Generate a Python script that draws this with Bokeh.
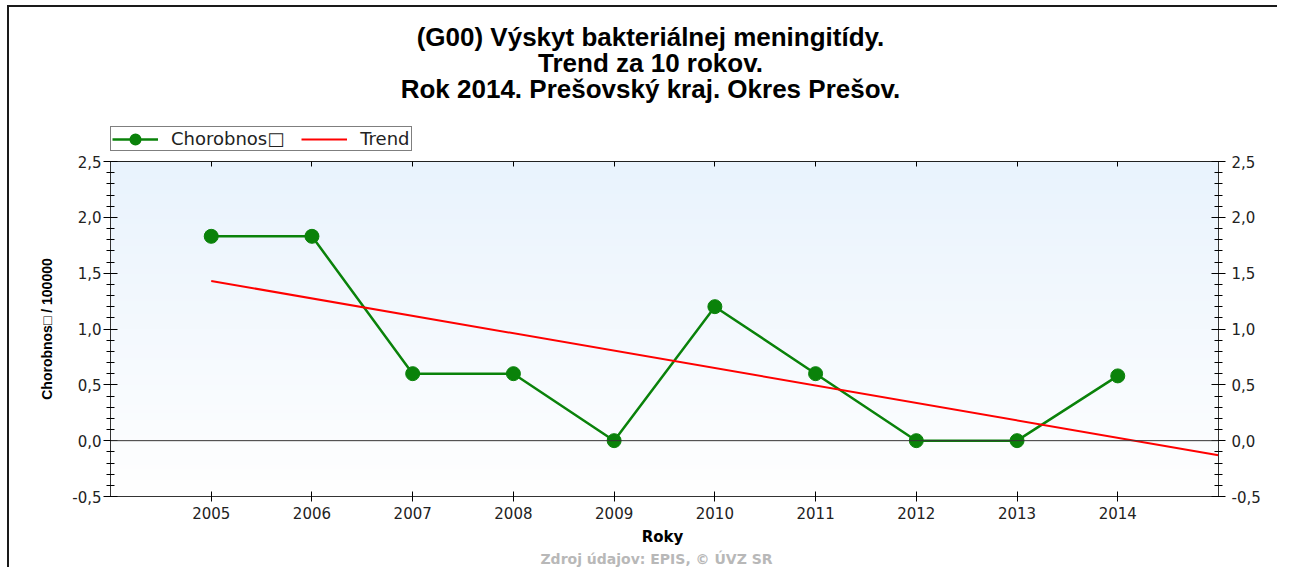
import numpy as np
from bokeh.plotting import figure
from bokeh.layouts import column
from bokeh.models import (Range1d, LinearAxis, FixedTicker, Span, Label, Legend, LegendItem)
from bokeh.embed import file_html
from bokeh.resources import INLINE

# ---- data ----
years = [2005, 2006, 2007, 2008, 2009, 2010, 2011, 2012, 2013, 2014]
values = [1.83, 1.83, 0.60, 0.60, 0.00, 1.20, 0.60, 0.00, 0.00, 0.58]
trend_x = [2005, 2015]
trend_y = [1.43, -0.13]
x_tick_labels = ["2005", "2006", "2007", "2008", "2009", "2010", "2011", "2012", "2013", "2014"]
y_ticks = [-0.5, 0.0, 0.5, 1.0, 1.5, 2.0, 2.5]
y_tick_labels = ["-0,5", "0,0", "0,5", "1,0", "1,5", "2,0", "2,5"]
title_lines = ["(G00) Výskyt bakteriálnej meningitídy.",
               "Trend za 10 rokov.",
               "Rok 2014. Prešovský kraj. Okres Prešov."]
series_name = "Chorobnos\u25a1"
trend_name = "Trend"
y_label = "Chorobnos\u25a1 / 100000"
x_label = "Roky"
source_text = "Zdroj údajov: EPIS, © ÚVZ SR"

X0, X1 = 2004, 2015
Y0, Y1 = -0.5, 2.5

W = 1268
HEAD_H, MAIN_H, FOOT_H = 144, 375, 41
FRAME_LEFT = 101   # frames of the stacked figures are aligned to the chart frame
FRAME_RIGHT = 59
green = "#0a820a"
red = "#ff0000"

def bare(h):
    f = figure(width=W, height=h, output_backend="svg", toolbar_location=None,
               x_range=Range1d(0, 1), y_range=Range1d(0, 1),
               x_axis_location=None, y_axis_location=None, title=None,
               min_border=0, min_border_left=FRAME_LEFT, min_border_right=FRAME_RIGHT,
               min_border_top=0, min_border_bottom=0)
    f.xgrid.visible = False
    f.ygrid.visible = False
    f.outline_line_color = None
    f.background_fill_color = "white"
    f.border_fill_color = "white"
    return f

# ---------- header: titles + legend ----------
head = bare(HEAD_H)
for txt, yy in zip(title_lines, [115, 89, 63]):
    head.add_layout(Label(x=540, y=yy, x_units="screen", y_units="screen", text=txt,
                          text_align="center", text_baseline="middle",
                          text_font="Liberation Sans", text_font_style="bold",
                          text_font_size="26px", text_color="black"))
# legend samples (styles only; the points lie outside the header's range)
lg_line = head.line([-10, -9], [-10, -10], line_color=green, line_width=2.5)
lg_dot = head.scatter([-10], [-10], size=8, fill_color=green, line_color=green, line_width=4)
lg_trend = head.line([-10, -9], [-10, -10], line_color=red, line_width=2)
legend = Legend(items=[LegendItem(label=series_name, renderers=[lg_line, lg_dot]),
                       LegendItem(label=trend_name, renderers=[lg_trend])],
                orientation="horizontal", location=(0, 0),
                border_line_color="black", border_line_width=1,
                background_fill_color="white", background_fill_alpha=1,
                label_text_font="DejaVu Sans", label_text_font_size="18px",
                label_text_color="#222222", label_text_baseline="middle",
                glyph_width=46, glyph_height=20, label_height=20,
                label_standoff=13, spacing=17, padding=1, margin=0)
head.add_layout(legend)

# ---------- main chart ----------
p = figure(width=W, height=MAIN_H, output_backend="svg", toolbar_location=None,
           x_range=Range1d(X0, X1), y_range=Range1d(Y0, Y1),
           x_axis_location=None, y_axis_location=None, title=None,
           min_border_left=FRAME_LEFT, min_border_right=FRAME_RIGHT,
           min_border_top=10, min_border_bottom=30)
p.xgrid.visible = False
p.ygrid.visible = False
p.outline_line_color = "#222222"
p.background_fill_color = "white"
p.border_fill_color = "white"

# gradient background of plot area
n = 200
t = np.linspace(0, 1, n)[:, None]  # 0 bottom -> 1 top
top = np.array([233, 243, 253]); bot = np.array([255, 255, 255])
cols = (bot + (top - bot) * t).astype(np.uint32)
img = np.empty((n, 1), dtype=np.uint32)
view = img.view(dtype=np.uint8).reshape((n, 1, 4))
view[:, :, 0] = cols[:, 0][:, None]
view[:, :, 1] = cols[:, 1][:, None]
view[:, :, 2] = cols[:, 2][:, None]
view[:, :, 3] = 255
p.image_rgba(image=[img], x=X0, y=Y0, dw=X1 - X0, dh=Y1 - Y0, level="image")

p.add_layout(Span(location=0, dimension="width", line_color="#333333", line_width=1))

minor = [round(v, 1) for v in np.arange(-0.5, 2.51, 0.1) if round(v, 1) not in y_ticks]
yover = {v: s for v, s in zip(y_ticks, y_tick_labels)}
xover = {v: s for v, s in zip(years, x_tick_labels)}

def style_y(ax, standoff):
    ax.ticker = FixedTicker(ticks=y_ticks, minor_ticks=minor)
    ax.major_label_overrides = yover
    ax.major_tick_in = 7; ax.major_tick_out = 7
    ax.minor_tick_in = 4; ax.minor_tick_out = 4
    ax.major_tick_line_color = "black"; ax.minor_tick_line_color = "black"
    ax.axis_line_color = "#333333"
    ax.major_label_text_font = "DejaVu Sans"
    ax.major_label_text_font_size = "15px"
    ax.major_label_text_color = "#222222"
    ax.major_label_standoff = standoff

yl = LinearAxis()
style_y(yl, 2)
yl.axis_label = y_label
yl.axis_label_text_font = "Liberation Sans"
yl.axis_label_text_font_style = "bold"
yl.axis_label_text_font_size = "14px"
yl.axis_label_text_color = "black"
yl.axis_label_standoff = 14
p.add_layout(yl, "left")

yr = LinearAxis()
style_y(yr, 6)
p.add_layout(yr, "right")

xb = LinearAxis()
xb.ticker = FixedTicker(ticks=years, minor_ticks=[])
xb.major_label_overrides = xover
xb.major_tick_in = 5; xb.major_tick_out = 5
xb.major_tick_line_color = "black"
xb.axis_line_color = "#333333"
xb.major_label_text_font = "DejaVu Sans"
xb.major_label_text_font_size = "15px"
xb.major_label_text_color = "#222222"
xb.major_label_standoff = 5
p.add_layout(xb, "below")

xt = LinearAxis()
xt.ticker = FixedTicker(ticks=years, minor_ticks=[])
xt.major_tick_in = 5; xt.major_tick_out = 0
xt.major_tick_line_color = "black"
xt.axis_line_color = "#222222"
xt.major_label_text_font_size = "0px"
xt.major_label_text_alpha = 0
xt.major_label_standoff = 0
p.add_layout(xt, "above")

p.line(years, values, line_color=green, line_width=2.5)
p.scatter(years, values, size=14, fill_color=green, line_color=green)
p.line(trend_x, trend_y, line_color=red, line_width=2)

# ---------- footer: x axis title + source ----------
foot = bare(FOOT_H)
foot.add_layout(Label(x=552, y=31, x_units="screen", y_units="screen", text=x_label,
                      text_align="center", text_baseline="middle",
                      text_font="DejaVu Sans", text_font_style="bold",
                      text_font_size="15px", text_color="black"))
foot.add_layout(Label(x=546, y=9, x_units="screen", y_units="screen", text=source_text,
                      text_align="center", text_baseline="middle",
                      text_font="DejaVu Sans", text_font_style="bold",
                      text_font_size="14px", text_color="#b8b8b8"))

layout = column(head, p, foot, spacing=0,
                styles={"margin-left": "7px", "margin-top": "5px",
                        "border-top": "2px solid #1a1a1a", "border-left": "2px solid #1a1a1a"})
open("out.html", "w").write(file_html(layout, INLINE))
